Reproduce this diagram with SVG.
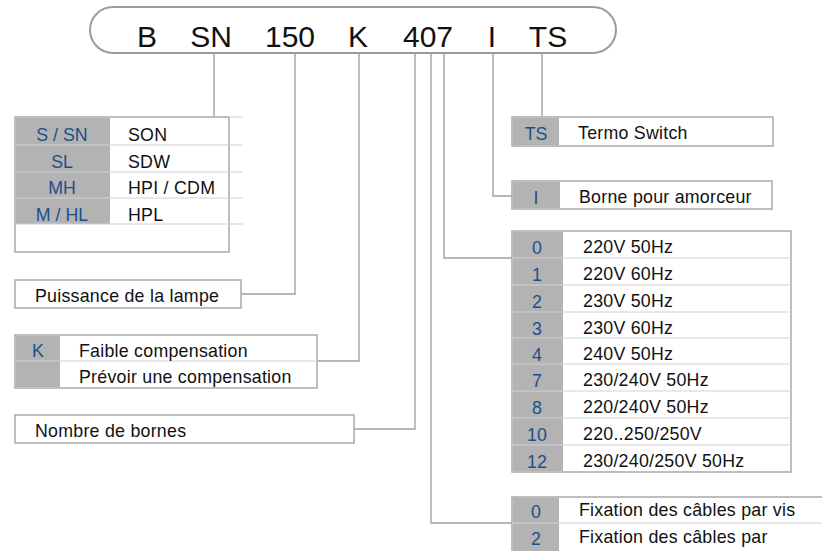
<svg xmlns="http://www.w3.org/2000/svg" width="822" height="551" viewBox="0 0 822 551">
<style>
text{font-family:"Liberation Sans",Arial,sans-serif;font-size:17.8px;letter-spacing:0.25px;fill:#111}
.big{font-size:30px;letter-spacing:0;text-anchor:middle;fill:#111}
.code{fill:#1d4f8c;text-anchor:middle;letter-spacing:0}
.box{fill:#fff;stroke:#a9a9a9;stroke-width:1.5}
.gray{fill:#b3b3b3}
.sep{stroke:#d2d2d2;stroke-width:1.2}
.conn{fill:none;stroke:#a0a0a0;stroke-width:1.4}
</style>
<rect width="822" height="551" fill="#fff"/>
<g id="code">
<rect x="90" y="7" width="526" height="46" rx="23" fill="#fff" stroke="#9c9c9c" stroke-width="2"/>
<text class="big" x="147" y="47">B</text>
<text class="big" x="211" y="47">SN</text>
<text class="big" x="290" y="47">150</text>
<text class="big" x="358" y="47">K</text>
<text class="big" x="428" y="47">407</text>
<text class="big" x="492" y="47">I</text>
<text class="big" x="548" y="47">TS</text>
</g>
<g id="connectors" class="conn">
<path d="M214 53V117"/>
<path d="M295 53V294H241"/>
<path d="M359 53V361H317"/>
<path d="M415 53V429H354"/>
<path d="M431 53V523H512"/>
<path d="M444 53V258H512"/>
<path d="M493 53V196H512"/>
<path d="M542 53V117"/>
</g>
<g id="lamp-type">
<rect class="box" x="15" y="117" width="214" height="135"/>
<rect class="gray" x="16" y="118" width="94" height="106"/>
<path class="sep" d="M15 145H243M15 172H243M15 198H243M15 224H243M229 117H243"/>
<text class="code" x="62" y="141">S / SN</text>
<text class="code" x="62" y="168">SL</text>
<text class="code" x="62" y="194">MH</text>
<text class="code" x="62" y="221">M / HL</text>
<text x="128" y="141">SON</text>
<text x="128" y="168">SDW</text>
<text x="128" y="194">HPI / CDM</text>
<text x="128" y="221">HPL</text>
</g>
<g id="power">
<rect class="box" x="15" y="280" width="226" height="28"/>
<text x="35" y="302">Puissance de la lampe</text>
</g>
<g id="compensation">
<rect class="box" x="15" y="335" width="302" height="53"/>
<rect class="gray" x="16" y="336" width="44" height="51"/>
<path class="sep" d="M15 361H317"/>
<text class="code" x="38" y="357">K</text>
<text x="79" y="357">Faible compensation</text>
<text x="79" y="383">Prévoir une compensation</text>
</g>
<g id="terminals">
<rect class="box" x="15" y="415" width="339" height="28"/>
<text x="35" y="437">Nombre de bornes</text>
</g>
<g id="thermo">
<rect class="box" x="512" y="117" width="261" height="29"/>
<rect class="gray" x="513" y="118" width="46" height="27"/>
<text class="code" x="536" y="140">TS</text>
<text x="578" y="139">Termo Switch</text>
</g>
<g id="igniter">
<rect class="box" x="512" y="181" width="260" height="28"/>
<rect class="gray" x="513" y="182" width="47" height="26"/>
<text class="code" x="536" y="204">I</text>
<text x="579" y="203">Borne pour amorceur</text>
</g>
<g id="voltage">
<rect class="box" x="512" y="231" width="279" height="241"/>
<rect class="gray" x="513" y="232" width="50" height="239"/>
<path class="sep" d="M512 258H791M512 285H791M512 312H791M512 338H791M512 364H791M512 391H791M512 418H791M512 445H791"/>
<text class="code" x="537" y="254">0</text><text x="583" y="253">220V 50Hz</text>
<text class="code" x="537" y="281">1</text><text x="583" y="280">220V 60Hz</text>
<text class="code" x="537" y="308">2</text><text x="583" y="307">230V 50Hz</text>
<text class="code" x="537" y="335">3</text><text x="583" y="334">230V 60Hz</text>
<text class="code" x="537" y="361">4</text><text x="583" y="360">240V 50Hz</text>
<text class="code" x="537" y="387">7</text><text x="583" y="386">230/240V 50Hz</text>
<text class="code" x="537" y="414">8</text><text x="583" y="413">220/240V 50Hz</text>
<text class="code" x="537" y="441">10</text><text x="583" y="440">220..250/250V</text>
<text class="code" x="537" y="468">12</text><text x="583" y="467">230/240/250V 50Hz</text>
</g>
<g id="fixing">
<rect class="box" x="512" y="497" width="320" height="60"/>
<rect class="gray" x="513" y="498" width="46" height="53"/>
<path class="sep" d="M512 523H822"/>
<text class="code" x="536" y="518">0</text>
<text x="579" y="516">Fixation des câbles par vis</text>
<text class="code" x="536" y="545">2</text>
<text x="579" y="543">Fixation des câbles par</text>
</g>
</svg>
